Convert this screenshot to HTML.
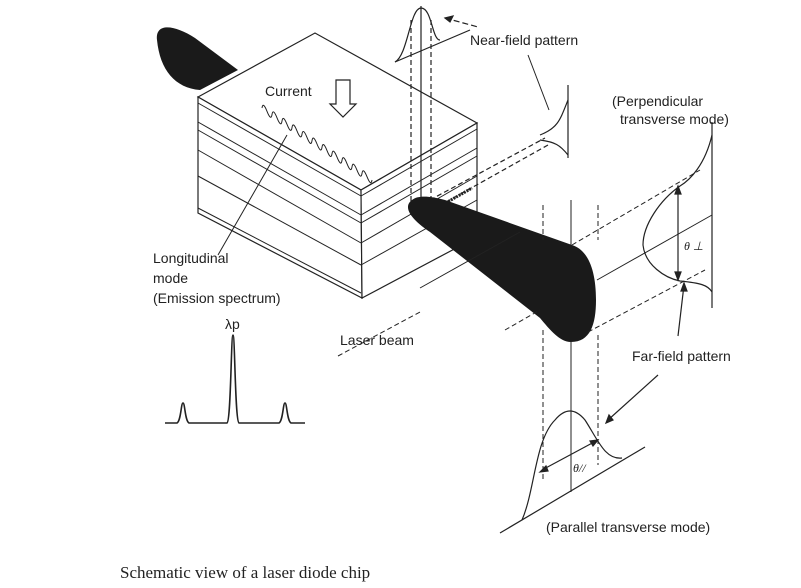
<!DOCTYPE html>
<html><head><meta charset="utf-8"><style>
html,body{margin:0;padding:0;background:#fff;}
svg{display:block;}
text{font-family:"Liberation Sans",sans-serif;font-size:14px;fill:#222;stroke:none;}
</style></head><body>
<svg width="801" height="588" viewBox="0 0 801 588" stroke="#222" fill="none" stroke-width="1.2">
<path d="M157,40 C155,22 175,25 195,38 L238,70 L200,90 C175,88 160,70 157,40 Z" fill="#1a1a1a" stroke="none"/>
<g>
<polygon points="198,97 315,33 477,123 361,190" fill="#fff"/>
<polygon points="198,97 361,190 362,298 198,213" fill="#fff"/>
<polygon points="361,190 477,123 477,237 362,298" fill="#fff"/>
<g stroke-width="1">
<line x1="198" y1="103" x2="361" y2="196"/><line x1="198" y1="122" x2="361" y2="215"/>
<line x1="198" y1="130" x2="361" y2="223"/><line x1="198" y1="150" x2="361" y2="243"/>
<line x1="198" y1="176" x2="361" y2="265"/>
<line x1="198" y1="208" x2="361" y2="293"/>
<line x1="361" y1="196" x2="477" y2="129"/><line x1="361" y1="215" x2="477" y2="148"/>
<line x1="361" y1="223" x2="477" y2="156"/><line x1="361" y1="243" x2="477" y2="176"/>
<line x1="361" y1="265" x2="477" y2="200"/>
</g>
</g>
<path d="M336,80 L350,80 L350,104 L356,104 L343,117 L330,104 L336,104 Z" fill="#fff"/>
<text x="265" y="96">Current</text>
<path id="wave" stroke-width="1"/>
<line x1="218" y1="255" x2="287" y2="135" stroke-width="1"/>
<g>
<line x1="421" y1="6" x2="421" y2="205"/>
<line x1="411" y1="20" x2="411" y2="205" stroke-dasharray="5,3"/>
<line x1="431" y1="20" x2="431" y2="205" stroke-dasharray="5,3"/>
<path d="M395,62 C408,55 410,8 421,8 C432,8 432,40 440,40"/>
<line x1="395" y1="62" x2="470" y2="30"/>
<path d="M445,18 L478,27" stroke-dasharray="6,3"/><path d="M445,18 l8,-2 l-3,6z" fill="#222"/>
</g>
<text x="470" y="45">Near-field pattern</text>
<line x1="528" y1="55" x2="549" y2="110" stroke-width="1"/>
<g>
<line x1="568" y1="85" x2="568" y2="158"/>
<path d="M568,100 C560,120 558,128 540,135 M568,155 C560,145 555,142 540,140"/>
<line x1="430" y1="200" x2="545" y2="138" stroke-dasharray="5,3"/>
<line x1="432" y1="210" x2="548" y2="145" stroke-dasharray="5,3"/>
<line x1="430" y1="212" x2="472" y2="188" stroke-width="3" stroke-dasharray="2,1"/>
</g>
<path d="M412,200 C418,195 430,196 445,200 L572,245 C588,250 596,270 596,300 C596,325 590,342 571,342 C560,342 550,330 540,318 L430,232 C405,215 405,205 412,200 Z" fill="#1a1a1a" stroke="none"/>
<g stroke-width="1">
<line x1="571" y1="200" x2="571" y2="245"/>
<line x1="571" y1="342" x2="571" y2="492"/>
<line x1="543" y1="205" x2="543" y2="240" stroke-dasharray="5,3"/>
<line x1="598" y1="205" x2="598" y2="240" stroke-dasharray="5,3"/>
<line x1="543" y1="330" x2="543" y2="480" stroke-dasharray="5,3"/>
<line x1="598" y1="335" x2="598" y2="465" stroke-dasharray="5,3"/>
<line x1="572" y1="245" x2="700" y2="170" stroke-dasharray="5,3"/>
<line x1="597" y1="280" x2="712" y2="215"/>
<line x1="588" y1="332" x2="705" y2="270" stroke-dasharray="5,3"/>
<line x1="505" y1="330" x2="540" y2="310" stroke-dasharray="5,3"/>
<line x1="420" y1="288" x2="520" y2="232"/>
<line x1="338" y1="356" x2="420" y2="312" stroke-dasharray="5,3"/>
</g>
<text x="340" y="345">Laser beam</text>
<g>
<line x1="712" y1="122" x2="712" y2="308"/>
<path d="M712,135 C705,165 690,180 680,186 C660,200 643,225 643,245 C645,265 665,278 680,281 C700,283 708,285 712,292"/>
<line x1="678" y1="190" x2="678" y2="276"/>
<path d="M678,186 l-3,8 l6,0z M678,280 l-3,-8 l6,0z" fill="#222"/>
<text x="684" y="250" style="font-style:italic;font-size:12px;font-family:'Liberation Serif',serif">θ ⊥</text>
</g>
<text x="612" y="106">(Perpendicular</text>
<text x="620" y="124">transverse mode)</text>
<text x="632" y="361">Far-field pattern</text>
<line x1="678" y1="336" x2="684" y2="285" stroke-width="1.2"/><path d="M684,283 l-3,8 l6,0z" fill="#222"/>
<line x1="658" y1="375" x2="608" y2="420" stroke-width="1.2"/><path d="M606,423 l3,-8 l4,5z" fill="#222"/>
<g>
<path d="M522,520 C535,490 535,440 555,420 C565,408 575,408 585,420 C598,440 605,460 622,458"/>
<line x1="500" y1="533" x2="645" y2="447"/>
<line x1="542" y1="470" x2="596" y2="441"/>
<path d="M540,472 l6,-6 l2,5z M598,440 l-8,1 l3,5z" fill="#222"/>
<text x="573" y="472" style="font-style:italic;font-size:12px;font-family:'Liberation Serif',serif">θ//</text>
</g>
<text x="546" y="532">(Parallel transverse mode)</text>
<text x="153" y="263">Longitudinal</text>
<text x="153" y="283">mode</text>
<text x="153" y="303">(Emission spectrum)</text>
<text x="225" y="329">λp</text>
<path id="spec" stroke-width="1.6"/>
<text x="120" y="578" style="font-family:'Liberation Serif',serif;font-size:17px">Schematic view of a laser diode chip</text>
</svg>
<script>
const peakPos=[183,233,285];
const peakHeights=[20,88,20];
const baseY=423,x0=165,x1=305;
let d='M'+x0+','+baseY;
peakPos.forEach((p,i)=>{const h=peakHeights[i];
d+=' L'+(p-6)+','+baseY+' C'+(p-2)+','+(baseY-2)+' '+(p-2)+','+(baseY-h)+' '+p+','+(baseY-h)+' C'+(p+2)+','+(baseY-h)+' '+(p+2)+','+(baseY-2)+' '+(p+6)+','+baseY;});
d+=' L'+x1+','+baseY;
document.getElementById('spec').setAttribute('d',d);
// wave
let w='M262,108';const n=11;const ax=262,ay=108,bx=372,by=180;
for(let i=0;i<n;i++){const t0=i/n,t1=(i+0.5)/n,t2=(i+1)/n;
const mx=ax+(bx-ax)*t1,my=ay+(by-ay)*t1;const ex=ax+(bx-ax)*t2,ey=ay+(by-ay)*t2;
w+=' Q'+(mx-4)+','+(my-10)+' '+(mx)+','+(my)+' Q'+(mx+4)+','+(my+10)+' '+ex+','+ey;}
document.getElementById('wave').setAttribute('d',w);
</script>
</body></html>
